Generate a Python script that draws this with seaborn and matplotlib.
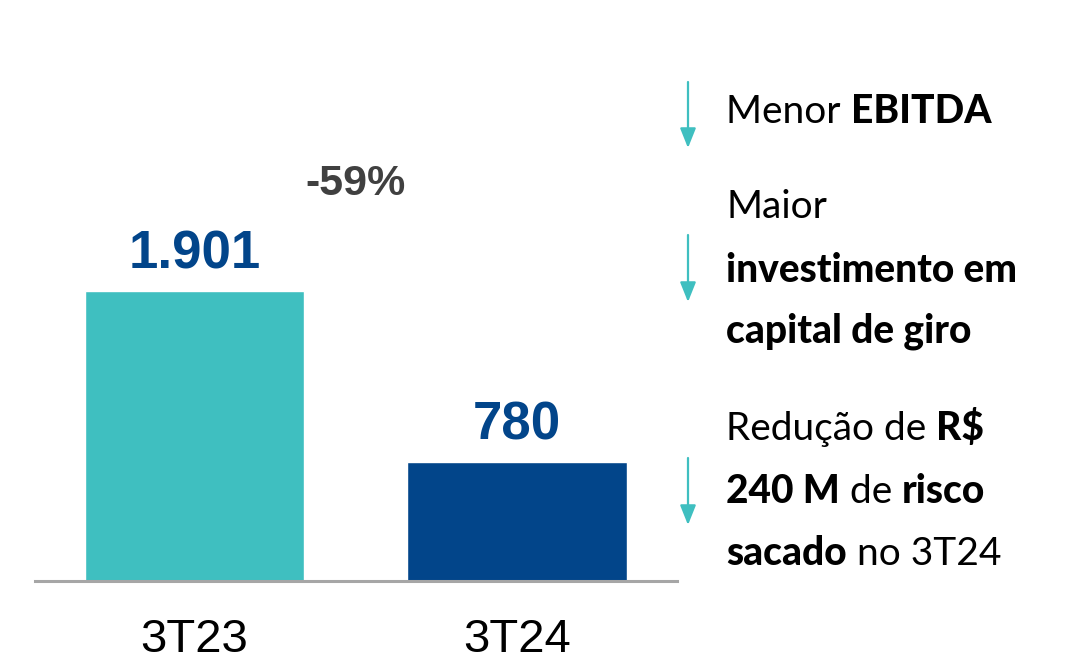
import matplotlib
matplotlib.use("Agg")
import matplotlib.pyplot as plt
import seaborn as sns
import pandas as pd

sns.set_theme(style="white")
plt.rcParams['font.family'] = ['Liberation Sans', 'DejaVu Sans']

# Data
categories = ["3T23", "3T24"]
values = [1901, 780]
value_labels = ["1.901", "780"]
bar_colors = ["#3FBFC0", "#02458A"]
change_label = "-59%"

# Notes on the right: each line is a list of (text, bold) pieces
notes = [
    [[("Menor ", False), ("EBITDA", True)]],
    [[("Maior", False)],
     [("investimento em", True)],
     [("capital de giro", True)]],
    [[("Redução de ", False), ("R$", True)],
     [("240 M", True), (" de ", False), ("risco", True)],
     [("sacado", True), (" no 3T24", False)]],
]

W, H = 1066, 668
fig = plt.figure(figsize=(W / 100, H / 100), dpi=100)
ax = fig.add_axes([35 / W, (H - 581) / H, (677 - 35) / W, 0.8224])

df = pd.DataFrame({"periodo": categories, "valor": values})
sns.barplot(data=df, x="periodo", y="valor", hue="periodo", palette=bar_colors,
            width=0.68, legend=False, ax=ax, saturation=1)

ax.set_xlim(-0.495, 1.496)
ax.set_ylim(0, 3600)
ax.set_xlabel("")
ax.set_ylabel("")
ax.set_yticks([])
for side in ["top", "right", "left"]:
    ax.spines[side].set_visible(False)
ax.spines["bottom"].set_color("#A6A6A6")
ax.spines["bottom"].set_linewidth(2.2)
ax.tick_params(axis="x", length=0, pad=27, labelsize=34, labelcolor="black")

# value labels
for i, (v, lab) in enumerate(zip(values, value_labels)):
    ax.annotate(lab, xy=(i, v), xytext=(0, 16), textcoords="offset points",
                ha="center", va="baseline", fontsize=38, fontweight="bold",
                color="#02458A")

# change label between bars
ax.annotate(change_label, xy=(0.5, max(values)), xytext=(0, 69),
            textcoords="offset points", ha="center", va="baseline",
            fontsize=31, fontweight="bold", color="#404040")

# right side notes
note_font = ['Lato', 'DejaVu Sans']
text_x = 726
baselines = [[123], [218, 282, 342], [440, 503, 565]]
arrows = [(82, 148), (235, 302), (458, 525)]
renderer = fig.canvas.get_renderer()
for block, ys in zip(notes, baselines):
    for line, y in zip(block, ys):
        x = text_x
        for piece, bold in line:
            t = fig.text(x / W, (H - y) / H, piece, ha="left", va="baseline",
                         fontsize=28, family=note_font, color="black",
                         fontweight=900 if bold else "normal")
            x = t.get_window_extent(renderer).x1

for y0, y1 in arrows:
    ax.annotate("", xy=(688, H - y1), xytext=(688, H - y0),
                xycoords="figure pixels", textcoords="figure pixels",
                arrowprops=dict(arrowstyle="-|>,head_length=1.0,head_width=0.4",
                                color="#3FBFC0", lw=1.6, shrinkA=0, shrinkB=0),
                annotation_clip=False)

fig.savefig("out.png", dpi=100, facecolor="white")
